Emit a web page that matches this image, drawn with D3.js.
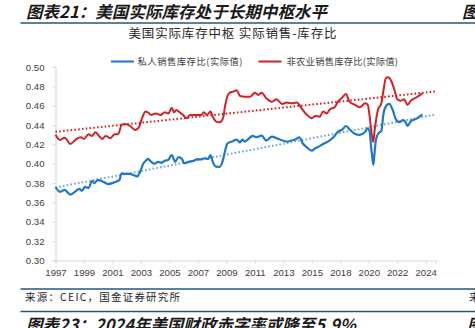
<!DOCTYPE html>
<html><head><meta charset="utf-8">
<script src="https://cdn.jsdelivr.net/npm/d3@7"></script>
<style>body{margin:0;background:#fff;overflow:hidden}svg{display:block}</style>
</head><body>
<svg id="c" width="475" height="328"></svg>
<script>
// ---- data ----
const privateSeries = [["1997-03",0.376],["1997-07",0.371],["1997-11",0.373],["1998-04",0.368],["1998-08",0.371],["1998-12",0.374],["1999-02",0.372],["1999-05",0.376],["1999-08",0.375],["1999-11",0.382],["2000-01",0.380],["2000-04",0.383],["2000-08",0.382],["2000-11",0.380],["2001-01",0.379],["2001-06",0.3805],["2001-09",0.382],["2001-11",0.383],["2002-01",0.390],["2002-04",0.3895],["2002-08",0.3895],["2002-11",0.3885],["2003-03",0.387],["2003-05",0.391],["2003-08",0.400],["2003-11",0.404],["2003-12",0.405],["2004-03",0.402],["2004-06",0.400],["2004-09",0.402],["2004-12",0.401],["2005-03",0.403],["2005-06",0.404],["2005-09",0.409],["2005-12",0.402],["2006-03",0.407],["2006-06",0.405],["2006-08",0.4005],["2006-12",0.402],["2007-04",0.403],["2007-08",0.4047],["2007-11",0.4045],["2008-02",0.4057],["2008-05",0.405],["2008-07",0.409],["2008-09",0.402],["2008-12",0.397],["2009-03",0.3967],["2009-06",0.404],["2009-08",0.414],["2009-10",0.421],["2010-02",0.423],["2010-06",0.425],["2010-09",0.422],["2010-11",0.425],["2011-01",0.4229],["2011-04",0.4253],["2011-08",0.4288],["2011-11",0.4274],["2012-04",0.429],["2012-08",0.424],["2013-01",0.428],["2013-05",0.4264],["2013-09",0.4246],["2014-02",0.4229],["2014-06",0.424],["2014-10",0.4253],["2015-01",0.4274],["2015-04",0.4212],["2015-07",0.4177],["2015-12",0.4136],["2016-03",0.416],["2016-05",0.417],["2016-10",0.4205],["2017-02",0.4229],["2017-07",0.4274],["2017-11",0.4332],["2018-03",0.4356],["2018-06",0.439],["2018-09",0.4356],["2019-02",0.4308],["2019-06",0.4298],["2019-11",0.4332],["2020-01",0.4367],["2020-03",0.432],["2020-04",0.418],["2020-05",0.408],["2020-06",0.399],["2020-07",0.410],["2020-08",0.422],["2020-09",0.428],["2020-11",0.432],["2021-01",0.434],["2021-03",0.452],["2021-06",0.4608],["2021-08",0.4618],["2021-11",0.4556],["2022-02",0.4453],["2022-05",0.443],["2022-08",0.445],["2022-10",0.4435],["2022-12",0.439],["2023-03",0.444],["2023-08",0.4466],["2024-01",0.451]];
const nonfarmSeries = [["1997-03",0.430],["1997-07",0.4246],["1997-11",0.427],["1998-04",0.4205],["1998-09",0.4253],["1999-01",0.4274],["1999-04",0.4257],["1999-08",0.4305],["1999-11",0.4288],["2000-02",0.4326],["2000-05",0.429],["2000-08",0.4257],["2000-11",0.4288],["2001-03",0.4264],["2001-07",0.4305],["2001-10",0.4305],["2002-01",0.4402],["2002-04",0.4411],["2002-08",0.4394],["2003-01",0.435],["2003-04",0.4373],["2003-07",0.447],["2003-10",0.4539],["2003-12",0.4532],["2004-03",0.4504],["2004-07",0.452],["2004-11",0.4504],["2005-03",0.4532],["2005-06",0.452],["2005-09",0.458],["2005-11",0.4532],["2006-01",0.4556],["2006-04",0.4532],["2006-07",0.4504],["2006-10",0.447],["2007-01",0.4504],["2007-07",0.4504],["2007-11",0.4504],["2008-01",0.4532],["2008-04",0.4504],["2008-07",0.4539],["2008-09",0.4487],["2008-12",0.4435],["2009-03",0.4429],["2009-06",0.447],["2009-08",0.4608],["2009-10",0.470],["2009-12",0.4735],["2010-03",0.4745],["2010-06",0.476],["2010-09",0.470],["2011-01",0.4693],["2011-06",0.4693],["2011-10",0.4735],["2012-01",0.4711],["2012-04",0.4735],["2012-08",0.4677],["2013-01",0.4642],["2013-05",0.4666],["2013-10",0.4618],["2014-02",0.4632],["2014-06",0.4625],["2014-11",0.4632],["2015-01",0.4608],["2015-04",0.4556],["2015-07",0.4515],["2015-12",0.447],["2016-03",0.4494],["2016-07",0.4487],["2016-10",0.454],["2017-01",0.452],["2017-04",0.4563],["2017-08",0.4584],["2017-11",0.4642],["2018-02",0.4677],["2018-06",0.4721],["2018-09",0.4642],["2019-02",0.4608],["2019-06",0.4584],["2019-11",0.4625],["2020-01",0.461],["2020-03",0.447],["2020-04",0.436],["2020-05",0.427],["2020-06",0.4225],["2020-07",0.433],["2020-08",0.442],["2020-10",0.4556],["2021-01",0.4625],["2021-03",0.4762],["2021-05",0.4883],["2021-07",0.4893],["2021-10",0.4848],["2022-01",0.4745],["2022-03",0.4666],["2022-06",0.4652],["2022-09",0.4666],["2022-12",0.4608],["2023-03",0.4652],["2023-08",0.4687],["2024-01",0.4728]];
const privateTrend = [["1997-03",0.3755],["2025-01",0.451]];
const nonfarmTrend = [["1997-03",0.433],["2025-01",0.4748]];
const xTickMonths = ["1997-03","1999-04","2001-05","2003-06","2005-07","2007-08","2009-09","2011-10","2013-11","2015-12","2018-01","2020-02","2022-03","2024-04"];
const xDomain = ["1997-03","2025-01"];
const yTicks = [0.30,0.32,0.34,0.36,0.38,0.40,0.42,0.44,0.46,0.48,0.50];
const seriesNames = ["私人销售库存比(实际值)","非农业销售库存比(实际值)"];
const headTitle = "图表21：美国实际库存处于长期中枢水平";
const chartTitle = "美国实际库存中枢 实际销售-库存比";
const sourceText = "来源：CEIC，国金证券研究所";
const nextTitle = "图表23：2024年美国财政赤字率或降至5.9%";

// ---- drawing ----
const parse = d3.timeParse("%Y-%m");
const svg = d3.select("#c");
const x = d3.scaleTime().domain(xDomain.map(parse)).range([55.5, 436]);
const y = d3.scaleLinear().domain([0.30, 0.50]).range([260.5, 67]);
const blue = "#1f77c9", red = "#d42027", blueTrend = "#6aa6dc", navy = "#2a557f";
const cjk = "'Noto Sans CJK SC', sans-serif";

// header
svg.append("text").attr("x", 26).attr("y", 18).attr("font-family", cjk)
  .attr("font-size", 16.5).attr("font-weight", "bold").attr("font-style", "italic")
  .attr("fill", "#1a1a1a").attr("textLength", 301).attr("lengthAdjust", "spacing").text(headTitle);
svg.append("text").attr("x", 462).attr("y", 18).attr("font-family", cjk)
  .attr("font-size", 16.5).attr("font-weight", "bold").attr("font-style", "italic")
  .attr("fill", "#1a1a1a").text("图表22");
svg.append("line").attr("x1", 20.5).attr("x2", 475).attr("y1", 23).attr("y2", 23)
  .attr("stroke", navy).attr("stroke-width", 1.5);

// chart title
svg.append("text").attr("x", 232.5).attr("y", 38).attr("text-anchor", "middle")
  .attr("font-family", cjk).attr("font-size", 12.5).attr("fill", "#262626")
  .attr("textLength", 208).attr("lengthAdjust", "spacing").text(chartTitle);

// legend
const legend = [
  {name: seriesNames[0], color: blue, x0: 111, tx: 137.5, w: 105},
  {name: seriesNames[1], color: red, x0: 258.5, tx: 286.5, w: 111.5}
];
legend.forEach(l => {
  svg.append("line").attr("x1", l.x0).attr("x2", l.x0 + 23).attr("y1", 61.5).attr("y2", 61.5)
    .attr("stroke", l.color).attr("stroke-width", 2);
  svg.append("text").attr("x", l.tx).attr("y", 65).attr("font-family", cjk)
    .attr("font-size", 9.3).attr("fill", "#404040")
    .attr("textLength", l.w).attr("lengthAdjust", "spacing").text(l.name);
});

// axes
const yAxis = svg.append("g").attr("transform", "translate(55.5,0)")
  .call(d3.axisLeft(y).tickValues(yTicks).tickSize(3).tickPadding(8).tickFormat(d3.format(".2f")));
const xAxis = svg.append("g").attr("transform", "translate(0,260.5)")
  .call(d3.axisBottom(x).tickValues(xTickMonths.map(parse)).tickSize(3).tickPadding(6).tickFormat(d3.timeFormat("%Y")));
[yAxis, xAxis].forEach(g => {
  g.select(".domain").attr("stroke", "#d9d9d9").attr("stroke-width", 1.2);
  g.selectAll(".tick line").attr("stroke", "#d9d9d9");
  g.selectAll(".tick text").attr("font-family", "'Liberation Sans', Arial, sans-serif")
    .attr("font-size", 9.6).attr("fill", "#404040");
});

// lines
const line = d3.line().x(d => x(parse(d[0]))).y(d => y(d[1]));
const smooth = d3.line().x(d => x(parse(d[0]))).y(d => y(d[1])).curve(d3.curveMonotoneX);
svg.append("path").datum(nonfarmTrend).attr("d", line).attr("fill", "none")
  .attr("stroke", red).attr("stroke-width", 2).attr("stroke-dasharray", "1.6,2.2");
svg.append("path").datum(privateTrend).attr("d", line).attr("fill", "none")
  .attr("stroke", blueTrend).attr("stroke-width", 2).attr("stroke-dasharray", "1.6,2.2");
svg.append("path").datum(nonfarmSeries).attr("d", smooth).attr("fill", "none")
  .attr("stroke", red).attr("stroke-width", 2).attr("stroke-linejoin", "round");
svg.append("path").datum(privateSeries).attr("d", smooth).attr("fill", "none")
  .attr("stroke", blue).attr("stroke-width", 2.2).attr("stroke-linejoin", "round");

// footer
svg.append("line").attr("x1", 20.5).attr("x2", 475).attr("y1", 289).attr("y2", 289)
  .attr("stroke", navy).attr("stroke-width", 1.5);
svg.append("text").attr("x", 25).attr("y", 300.5).attr("font-family", cjk)
  .attr("font-size", 10.5).attr("fill", "#262626")
  .attr("textLength", 155).attr("lengthAdjust", "spacing").text(sourceText);
svg.append("text").attr("x", 469).attr("y", 300.5).attr("font-family", cjk)
  .attr("font-size", 10.5).attr("fill", "#262626").text("来源");
svg.append("line").attr("x1", 20.5).attr("x2", 475).attr("y1", 311.5).attr("y2", 311.5)
  .attr("stroke", navy).attr("stroke-width", 1.5);
svg.append("text").attr("x", 26).attr("y", 331).attr("font-family", cjk)
  .attr("font-size", 16.5).attr("font-weight", "bold").attr("font-style", "italic")
  .attr("fill", "#1a1a1a").attr("textLength", 330).attr("lengthAdjust", "spacing").text(nextTitle);
svg.append("text").attr("x", 467).attr("y", 331).attr("font-family", cjk)
  .attr("font-size", 16.5).attr("font-weight", "bold").attr("font-style", "italic")
  .attr("fill", "#1a1a1a").text("图表24");
</script>
</body></html>
